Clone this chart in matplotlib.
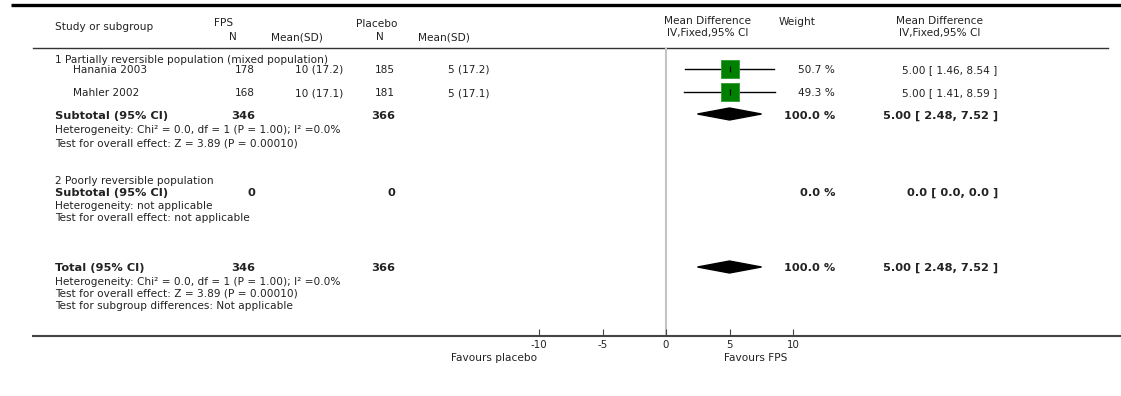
import matplotlib
matplotlib.use('Agg')
import matplotlib.pyplot as plt
from matplotlib.patches import Polygon

# data
studies = ['Hanania 2003', 'Mahler 2002']
fps_n = [178, 168]
fps_mean = [10, 10]
fps_sd = [17.2, 17.1]
pla_n = [185, 181]
pla_mean = [5, 5]
pla_sd = [17.2, 17.1]
md = [5.00, 5.00]
ci_lo = [1.46, 1.41]
ci_hi = [8.54, 8.59]
weights = [50.7, 49.3]

sub_n = [346, 366]        # FPS, placebo
sub_md = [5.00, 2.48, 7.52]
tot_n = [346, 366]
tot_md = [5.00, 2.48, 7.52]
ticks = [-10, -5, 0, 5, 10]

W, H = 1121, 396
fig = plt.figure(figsize=(W / 100, H / 100), dpi=100)
plt.rcParams['font.family'] = 'DejaVu Sans'

# background axes in pixel units for the table layout
bg = fig.add_axes([0, 0, 1, 1])
bg.set_xlim(0, W)
bg.set_ylim(H, 0)
bg.axis('off')

tc = '#222222'
fs = 7.6
fsb = 8.2


def txt(x, y, s, ha='left', bold=False, size=None):
    bg.text(x, y, s, ha=ha, va='center', color=tc,
            fontsize=size or (fsb if bold else fs),
            fontweight='bold' if bold else 'normal')


# rules
bg.plot([11, W], [5, 5], color='black', lw=2.4, solid_capstyle='butt')
bg.plot([33, 1108], [48, 48], color='#333333', lw=1.0)

# header
txt(55, 27, 'Study or subgroup')
txt(224, 23, 'FPS', ha='center')
txt(233, 37, 'N', ha='center')
txt(297, 38, 'Mean(SD)', ha='center')
txt(377, 24, 'Placebo', ha='center')
txt(380, 37, 'N', ha='center')
txt(444, 38, 'Mean(SD)', ha='center')
txt(708, 21, 'Mean Difference', ha='center')
txt(708, 33, 'IV,Fixed,95% CI', ha='center')
txt(797, 22, 'Weight', ha='center')
txt(940, 21, 'Mean Difference', ha='center')
txt(940, 33, 'IV,Fixed,95% CI', ha='center')

# subgroup 1
txt(55, 60, '1 Partially reversible population (mixed population)')
row_y = [70, 93]
for i, y in enumerate(row_y):
    txt(73, y, studies[i])
    txt(255, y, str(fps_n[i]), ha='right')
    txt(343, y, f'{fps_mean[i]} ({fps_sd[i]})', ha='right')
    txt(395, y, str(pla_n[i]), ha='right')
    txt(490, y, f'{pla_mean[i]} ({pla_sd[i]})', ha='right')
    txt(835, y, f'{weights[i]} %', ha='right')
    txt(997, y, f'{md[i]:.2f} [ {ci_lo[i]:.2f}, {ci_hi[i]:.2f} ]', ha='right')

txt(55, 116, 'Subtotal (95% CI)', bold=True)
txt(255, 116, str(sub_n[0]), ha='right', bold=True)
txt(395, 116, str(sub_n[1]), ha='right', bold=True)
txt(835, 116, f'{sum(weights):.1f} %', ha='right', bold=True)
txt(998, 116, f'{sub_md[0]:.2f} [ {sub_md[1]:.2f}, {sub_md[2]:.2f} ]', ha='right', bold=True)
txt(55, 130, 'Heterogeneity: Chi² = 0.0, df = 1 (P = 1.00); I² =0.0%')
txt(55, 143, 'Test for overall effect: Z = 3.89 (P = 0.00010)')

# subgroup 2
txt(55, 181, '2 Poorly reversible population')
txt(55, 193, 'Subtotal (95% CI)', bold=True)
txt(255, 193, '0', ha='right', bold=True)
txt(395, 193, '0', ha='right', bold=True)
txt(835, 193, '0.0 %', ha='right', bold=True)
txt(998, 193, '0.0 [ 0.0, 0.0 ]', ha='right', bold=True)
txt(55, 206, 'Heterogeneity: not applicable')
txt(55, 218, 'Test for overall effect: not applicable')

# total
txt(55, 268, 'Total (95% CI)', bold=True)
txt(255, 268, str(tot_n[0]), ha='right', bold=True)
txt(395, 268, str(tot_n[1]), ha='right', bold=True)
txt(835, 268, f'{sum(weights):.1f} %', ha='right', bold=True)
txt(998, 268, f'{tot_md[0]:.2f} [ {tot_md[1]:.2f}, {tot_md[2]:.2f} ]', ha='right', bold=True)
txt(55, 282, 'Heterogeneity: Chi² = 0.0, df = 1 (P = 1.00); I² =0.0%')
txt(55, 294, 'Test for overall effect: Z = 3.89 (P = 0.00010)')
txt(55, 306, 'Test for subgroup differences: Not applicable')

# forest axes: zero at x=666 px, 12.7 px per unit
x0, scale = 666, 12.7
left, right, top, bottom = 33, W, 48, 336
ax = fig.add_axes([left / W, 1 - bottom / H, (right - left) / W, (bottom - top) / H])
ax.set_xlim((left - x0) / scale, (right - x0) / scale)
ax.set_ylim(bottom, top)
ax.patch.set_alpha(0)
for s in ['top', 'left', 'right']:
    ax.spines[s].set_visible(False)
ax.spines['bottom'].set_color('#444444')
ax.spines['bottom'].set_linewidth(1.5)
ax.set_yticks([])
ax.set_xticks(ticks)
ax.set_xticklabels([str(t) for t in ticks])
ax.tick_params(axis='x', direction='in', length=5, width=0.8, color='#444444',
               labelsize=7.4, labelcolor=tc, pad=3)

ax.axvline(0, color='#c4c4c4', lw=1.5, zorder=0)

for i, y in enumerate(row_y):
    ax.plot([ci_lo[i], ci_hi[i]], [y - 1, y - 1], color='black', lw=1)
    ax.scatter([md[i]], [y - 1], marker='s', s=weights[i] * 3.3,
               color='#008000', edgecolors='#2e9a2e', linewidths=0.6, zorder=3)
    ax.scatter([md[i]], [y - 1], marker='|', s=18, color='black', lw=0.8, zorder=4)


def diamond(mid, lo, hi, y, h=6):
    ax.add_patch(Polygon([(lo, y), (mid, y - h), (hi, y), (mid, y + h)],
                         closed=True, color='black', zorder=3))


diamond(sub_md[0], sub_md[1], sub_md[2], 114)
diamond(tot_md[0], tot_md[1], tot_md[2], 267)

txt(537, 358, 'Favours placebo', ha='right')
txt(724, 358, 'Favours FPS', ha='left')

fig.savefig('out.png', dpi=100)
